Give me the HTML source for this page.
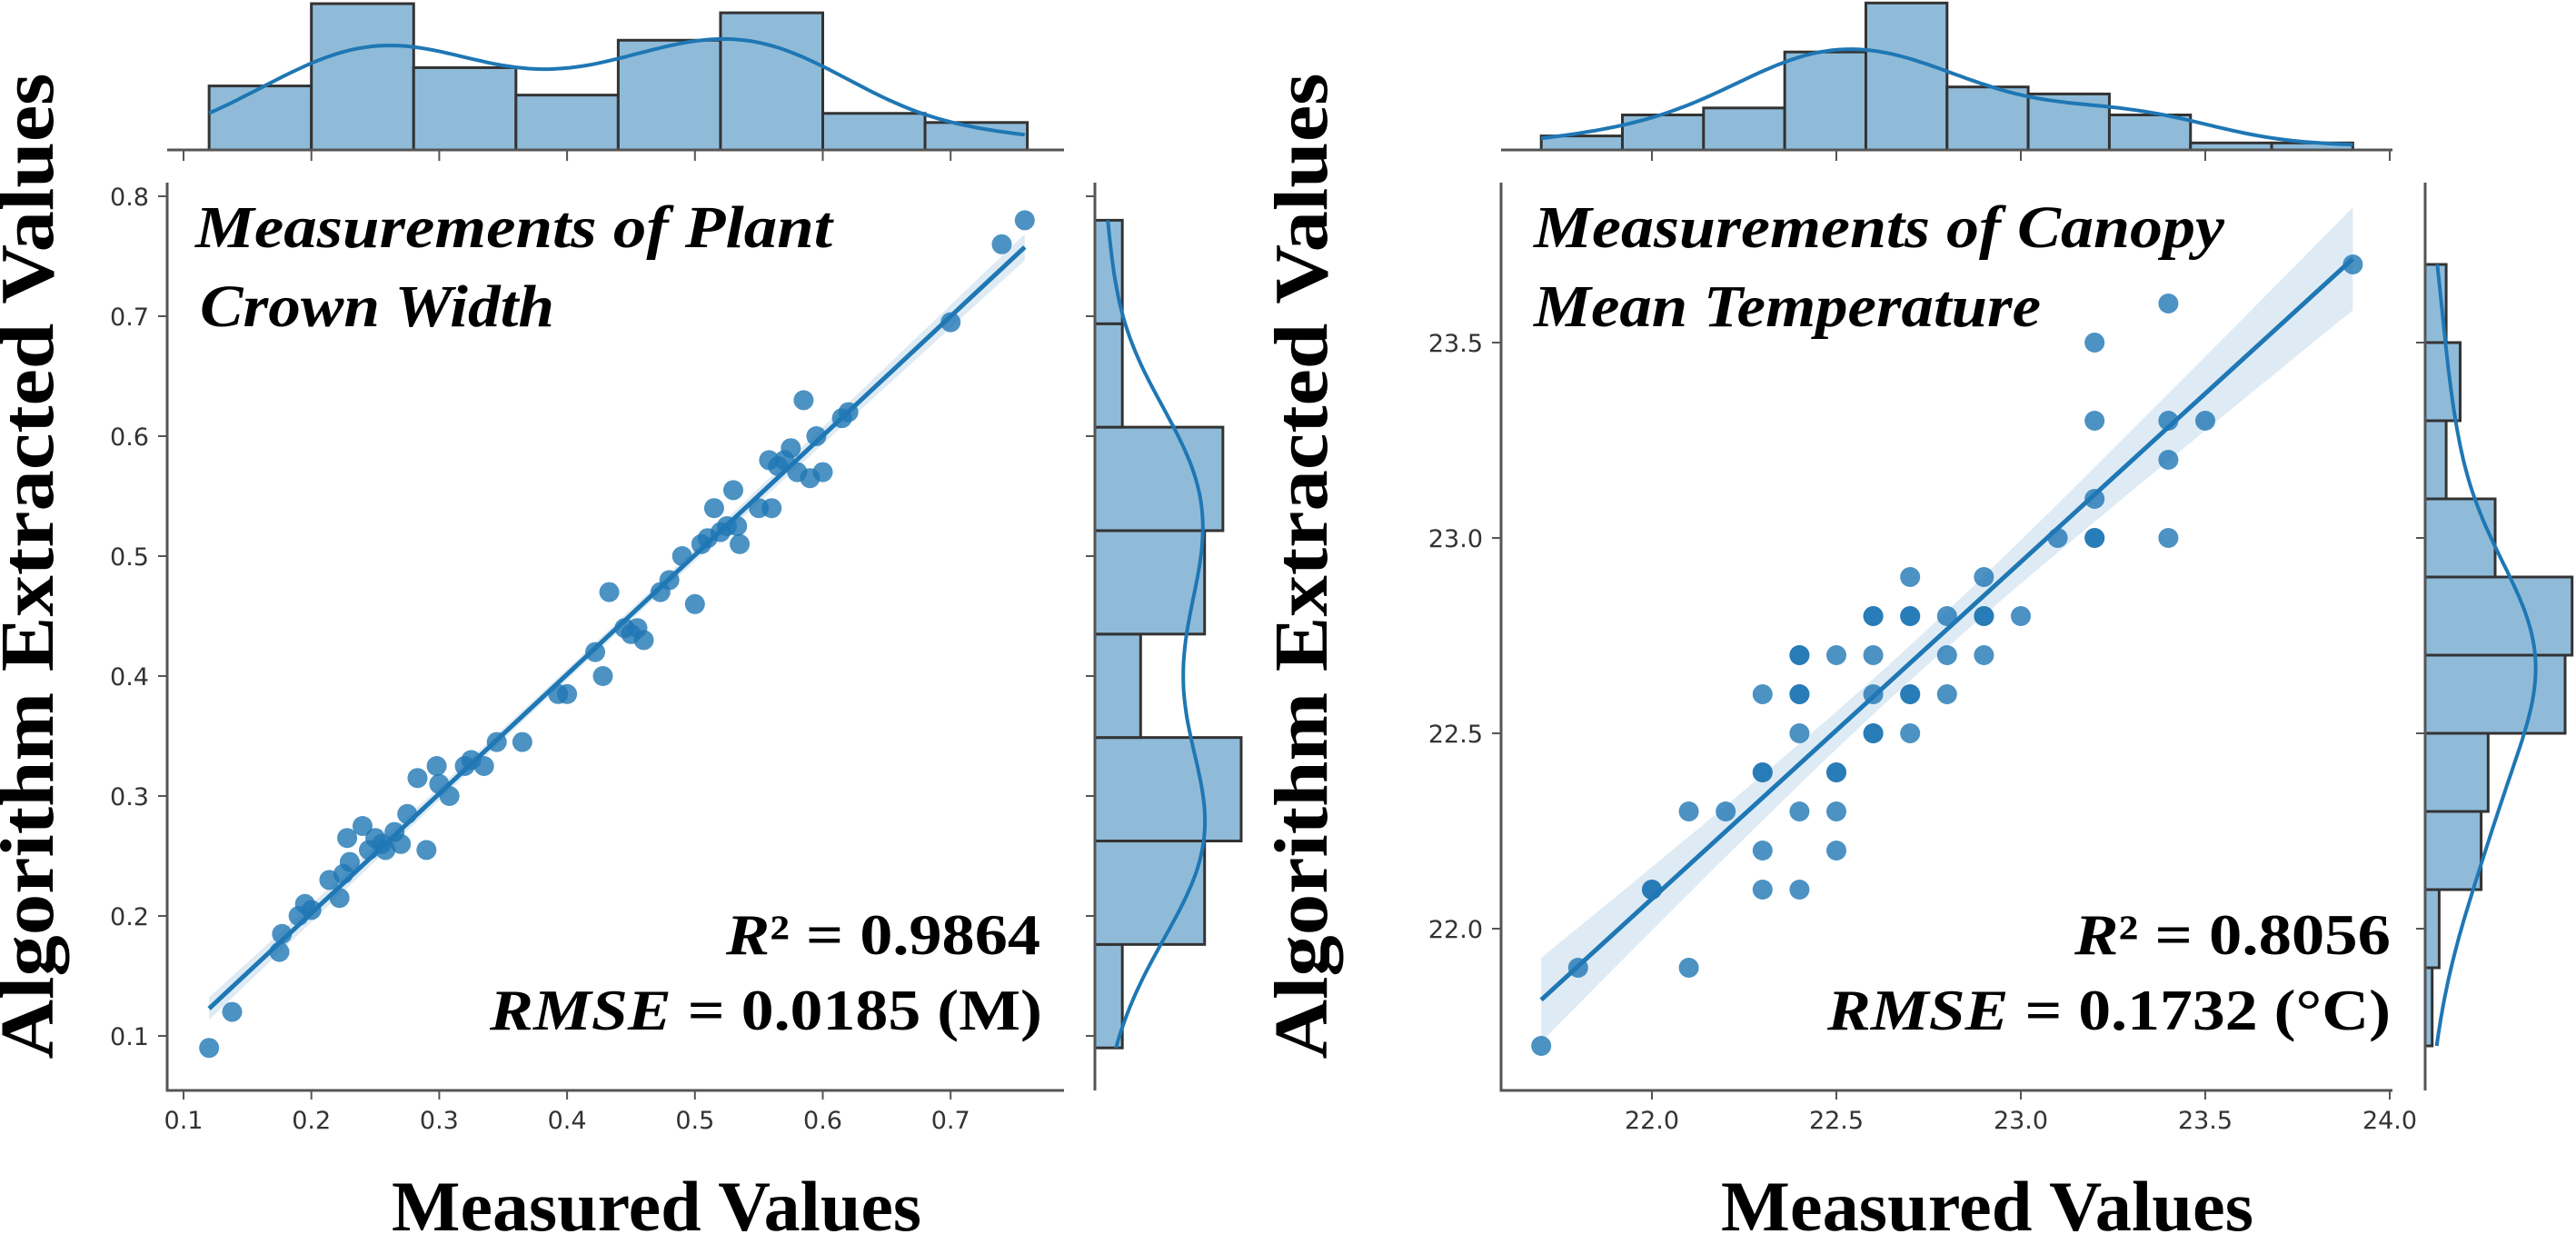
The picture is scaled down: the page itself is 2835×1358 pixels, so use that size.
<!DOCTYPE html>
<html><head><meta charset="utf-8"><style>
html,body{margin:0;padding:0;background:#fff}
svg{display:block}
</style></head><body>
<svg id="fig" width="2835" height="1358" xmlns="http://www.w3.org/2000/svg">
<g id="left"></g>
<g id="right"></g>
<g font-family="'Liberation Serif', serif" fill="#000">
<text transform="translate(58,623) rotate(-90)" text-anchor="middle" font-size="84" font-weight="bold" textLength="1085" lengthAdjust="spacingAndGlyphs">Algorithm Extracted Values</text>
<text transform="translate(1460,623) rotate(-90)" text-anchor="middle" font-size="84" font-weight="bold" textLength="1085" lengthAdjust="spacingAndGlyphs">Algorithm Extracted Values</text>
<text x="431" y="1354" font-size="78" font-weight="bold" textLength="583" lengthAdjust="spacingAndGlyphs">Measured Values</text>
<text x="1894" y="1354" font-size="78" font-weight="bold" textLength="586" lengthAdjust="spacingAndGlyphs">Measured Values</text>
<text x="215" y="272" font-size="66" font-weight="bold" font-style="italic" textLength="701" lengthAdjust="spacingAndGlyphs">Measurements of Plant</text>
<text x="220" y="359" font-size="66" font-weight="bold" font-style="italic" textLength="390" lengthAdjust="spacingAndGlyphs">Crown Width</text>
<text x="1688" y="272" font-size="66" font-weight="bold" font-style="italic" textLength="760" lengthAdjust="spacingAndGlyphs">Measurements of Canopy</text>
<text x="1688" y="359" font-size="66" font-weight="bold" font-style="italic" textLength="558" lengthAdjust="spacingAndGlyphs">Mean Temperature</text>
<text x="799" y="1050" font-size="64" font-weight="bold" textLength="346" lengthAdjust="spacingAndGlyphs"><tspan font-style="italic">R</tspan>² = 0.9864</text>
<text x="539" y="1133" font-size="64" font-weight="bold" textLength="608" lengthAdjust="spacingAndGlyphs"><tspan font-style="italic">RMSE</tspan> = 0.0185 (M)</text>
<text x="2283" y="1050" font-size="64" font-weight="bold" textLength="348" lengthAdjust="spacingAndGlyphs"><tspan font-style="italic">R</tspan>² = 0.8056</text>
<text x="2011" y="1133" font-size="64" font-weight="bold" textLength="620" lengthAdjust="spacingAndGlyphs"><tspan font-style="italic">RMSE</tspan> = 0.1732 (°C)</text>
</g>
</svg>
<script>
// ---- Left panel data (crown width) ----
const leftMeasured = [0.12,0.138,0.175,0.177,0.19,0.195,0.20,0.214,0.222,0.225,0.23,0.228,0.24,0.245,0.25,0.255,0.258,0.265,0.27,0.275,0.283,0.29,0.298,0.30,0.308,0.32,0.325,0.335,0.345,0.365,0.393,0.40,0.422,0.428,0.433,0.445,0.45,0.455,0.46,0.473,0.48,0.49,0.50,0.505,0.51,0.515,0.52,0.525,0.53,0.533,0.535,0.55,0.56,0.558,0.565,0.57,0.575,0.58,0.585,0.59,0.60,0.595,0.615,0.62,0.70,0.74,0.758];
const leftExtracted = [0.09,0.12,0.17,0.185,0.2,0.21,0.205,0.23,0.215,0.235,0.245,0.265,0.275,0.255,0.265,0.26,0.255,0.27,0.26,0.285,0.315,0.255,0.325,0.31,0.30,0.325,0.33,0.325,0.345,0.345,0.385,0.385,0.42,0.40,0.47,0.44,0.435,0.44,0.43,0.47,0.48,0.50,0.46,0.51,0.515,0.54,0.52,0.525,0.555,0.525,0.51,0.54,0.54,0.58,0.575,0.58,0.59,0.57,0.63,0.565,0.57,0.6,0.615,0.62,0.695,0.76,0.78];
const leftXTicks = [0.1,0.2,0.3,0.4,0.5,0.6,0.7];
const leftXTickLabels = ["0.1","0.2","0.3","0.4","0.5","0.6","0.7"];
const leftYTicks = [0.1,0.2,0.3,0.4,0.5,0.6,0.7,0.8];
const leftYTickLabels = ["0.1","0.2","0.3","0.4","0.5","0.6","0.7","0.8"];
const leftTopHistStart = 0.12, leftTopHistBin = 0.08;
const leftTopHistCounts = [7,16,9,6,12,15,4,3];
const leftSideHistStart = 0.09, leftSideHistBin = 0.08625;
const leftSideHistCounts = [3,12,16,5,12,14,3,3];

// ---- Right panel data (canopy temperature) ----
const rightMeasured = [21.7,21.8,22.0,22.0,22.1,22.1,22.2,22.3,22.3,22.3,22.3,22.3,22.4,22.4,22.4,22.4,22.4,22.4,22.4,22.5,22.5,22.5,22.5,22.5,22.6,22.6,22.6,22.6,22.6,22.6,22.7,22.7,22.7,22.7,22.7,22.7,22.8,22.8,22.8,22.9,22.9,22.9,22.9,23.0,23.1,23.2,23.2,23.2,23.2,23.2,23.4,23.4,23.4,23.4,23.5,23.9];
const rightExtracted = [21.7,21.9,22.1,22.1,21.9,22.3,22.3,22.1,22.2,22.4,22.4,22.6,22.1,22.3,22.5,22.6,22.6,22.7,22.7,22.2,22.3,22.4,22.4,22.7,22.5,22.5,22.6,22.7,22.8,22.8,22.5,22.6,22.8,22.8,22.9,22.6,22.6,22.7,22.8,22.7,22.8,22.8,22.9,22.8,23.0,23.0,23.0,23.1,23.3,23.5,23.0,23.2,23.3,23.6,23.3,23.7];
const rightXTicks = [22.0,22.5,23.0,23.5,24.0];
const rightXTickLabels = ["22.0","22.5","23.0","23.5","24.0"];
const rightYTicks = [22.0,22.5,23.0,23.5];
const rightYTickLabels = ["22.0","22.5","23.0","23.5"];
const rightTopHistStart = 21.7, rightTopHistBin = 0.22;
const rightTopHistCounts = [2,5,6,14,21,9,8,5,1,1];
const rightSideHistStart = 21.7, rightSideHistBin = 0.2;
const rightSideHistCounts = [1,2,8,9,20,21,10,3,5,3];

const NS = "http://www.w3.org/2000/svg";
const BLUE = "#1f77b4";
function mk(tag, attrs, parent){
  const e = document.createElementNS(NS, tag);
  for (const k in attrs) e.setAttribute(k, attrs[k]);
  parent.appendChild(e); return e;
}
function kde(data, lo, hi, n){
  const N = data.length;
  const mean = data.reduce((a,b)=>a+b,0)/N;
  const sd = Math.sqrt(data.reduce((a,b)=>a+(b-mean)*(b-mean),0)/(N-1));
  const h = sd*Math.pow(N,-0.2);
  const out = [];
  for (let i=0;i<=n;i++){
    const x = lo+(hi-lo)*i/n; let s=0;
    for (const d of data){ const z=(x-d)/h; s+=Math.exp(-0.5*z*z); }
    out.push([x, s/(N*h*Math.sqrt(2*Math.PI))]);
  }
  return out;
}
function fit(xs, ys){
  const n = xs.length;
  const mx = xs.reduce((a,b)=>a+b,0)/n, my = ys.reduce((a,b)=>a+b,0)/n;
  let sxx=0, sxy=0;
  for (let i=0;i<n;i++){ sxx+=(xs[i]-mx)**2; sxy+=(xs[i]-mx)*(ys[i]-my); }
  const b = sxy/sxx, a = my-b*mx;
  let sse=0; for (let i=0;i<n;i++) sse+=(ys[i]-a-b*xs[i])**2;
  const s = Math.sqrt(sse/(n-2));
  return {a,b,s,mx,sxx,n};
}

function panel(g, cfg){
  const {X, Y, x0, x1, yTop, yBot, topBase, sideBase} = cfg;
  const spine = {stroke:"#555","stroke-width":3,fill:"none"};

  const topG = mk("g",{},g);
  
  
  cfg.topCounts.forEach((c,i)=>{
    const l = X(cfg.topStart+i*cfg.topBin), r = X(cfg.topStart+(i+1)*cfg.topBin);
    const h = c*cfg.topScale;
    const rect = mk("rect",{x:l,y:topBase-h,width:r-l,height:h,fill:"#8fbbd9",stroke:"#333","stroke-width":3},topG);
    
    
  });
  const xsMin = Math.min(...cfg.xs), xsMax = Math.max(...cfg.xs);
  const kt = kde(cfg.xs, xsMin, xsMax, 120);
  const NT = cfg.topCounts.reduce((a,b)=>a+b,0);
  const tp = mk("path",{d:kt.map((p,i)=>(i?"L":"M")+X(p[0]).toFixed(1)+","+(topBase-p[1]*NT*cfg.topBin*cfg.topScale).toFixed(1)).join(""),fill:"none",stroke:BLUE,"stroke-width":4},topG);
  
  
  mk("line",Object.assign({x1:x0,x2:x1,y1:topBase,y2:topBase},spine),topG);
  cfg.xTicks.forEach(t=>mk("line",{x1:X(t),x2:X(t),y1:topBase,y2:topBase+12,stroke:"#555","stroke-width":2},topG));

  const sideG = mk("g",{},g);
  
  
  cfg.sideCounts.forEach((c,i)=>{
    const b = Y(cfg.sideStart+i*cfg.sideBin), t = Y(cfg.sideStart+(i+1)*cfg.sideBin);
    const w = c*cfg.sideScale;
    const rect = mk("rect",{x:sideBase,y:t,width:w,height:b-t,fill:"#8fbbd9",stroke:"#333","stroke-width":3},sideG);
    
    
  });
  const ysMin = Math.min(...cfg.ys), ysMax = Math.max(...cfg.ys);
  const ks = kde(cfg.ys, ysMin, ysMax, 120);
  const NS2 = cfg.sideCounts.reduce((a,b)=>a+b,0);
  const sp = mk("path",{d:ks.map((p,i)=>(i?"L":"M")+(sideBase+p[1]*NS2*cfg.sideBin*cfg.sideScale).toFixed(1)+","+Y(p[0]).toFixed(1)).join(""),fill:"none",stroke:BLUE,"stroke-width":4},sideG);
  
  
  mk("line",Object.assign({x1:sideBase,x2:sideBase,y1:yTop,y2:yBot},spine),sideG);
  cfg.yTicks.forEach(t=>mk("line",{x1:sideBase-10,x2:sideBase,y1:Y(t),y2:Y(t),stroke:"#555","stroke-width":2},sideG));

  const f = fit(cfg.xs, cfg.ys);
  const regG = mk("g",{},g);
  
  
  const pts = [];
  for (let i=0;i<=60;i++){
    const x = xsMin+(xsMax-xsMin)*i/60;
    const se = 2.0*f.s*Math.sqrt(1/f.n+(x-f.mx)**2/f.sxx);
    pts.push([x, f.a+f.b*x, se]);
  }
  const band = "M"+pts.map(p=>X(p[0]).toFixed(1)+","+Y(p[1]+p[2]).toFixed(1)).join("L")+"L"+pts.slice().reverse().map(p=>X(p[0]).toFixed(1)+","+Y(p[1]-p[2]).toFixed(1)).join("L")+"Z";
  const bp = mk("path",{d:band,fill:BLUE,"fill-opacity":0.15},regG);
  
  
  const ln = mk("line",{x1:X(xsMin),y1:Y(f.a+f.b*xsMin),x2:X(xsMax),y2:Y(f.a+f.b*xsMax),stroke:BLUE,"stroke-width":5},regG);
  
  

  const scG = mk("g",{},g);
  
  
  cfg.xs.forEach((x,i)=>{
    const c = mk("ellipse",{cx:X(x),cy:Y(cfg.ys[i]),rx:11,ry:11,fill:BLUE,"fill-opacity":0.8},scG);
    
    
  });

  const axG = mk("g",{},g);
  
  
  mk("line",Object.assign({x1:x0,x2:x0,y1:yTop,y2:yBot+1.5},spine),axG);
  mk("line",Object.assign({x1:x0,x2:x1,y1:yBot,y2:yBot},spine),axG);
  cfg.xTicks.forEach((t,i)=>{
    mk("line",{x1:X(t),x2:X(t),y1:yBot,y2:yBot+10,stroke:"#555","stroke-width":2},axG);
    const tx = mk("text",{x:X(t),y:1242,"text-anchor":"middle","font-family":"'DejaVu Sans', sans-serif","font-size":27,fill:"#333"},axG);
    tx.textContent = cfg.xLabels[i];
    
    
  });
  cfg.yTicks.forEach((t,i)=>{
    mk("line",{x1:x0-10,x2:x0,y1:Y(t),y2:Y(t),stroke:"#555","stroke-width":2},axG);
    const tx = mk("text",{x:x0-20,y:Y(t)+10,"text-anchor":"end","font-family":"'DejaVu Sans', sans-serif","font-size":27,fill:"#333"},axG);
    tx.textContent = cfg.yLabels[i];
    
    
  });
}

panel(document.getElementById("left"), {
  key:"left",
  X:v=>202+(v-0.1)*1407, Y:v=>1140-(v-0.1)*1320,
  x0:184, x1:1171, yTop:201, yBot:1200, topBase:165, sideBase:1205,
  xs:leftMeasured, ys:leftExtracted,
  xTicks:leftXTicks, xLabels:leftXTickLabels, yTicks:leftYTicks, yLabels:leftYTickLabels,
  topStart:leftTopHistStart, topBin:leftTopHistBin, topCounts:leftTopHistCounts, topScale:10.06,
  sideStart:leftSideHistStart, sideBin:leftSideHistBin, sideCounts:leftSideHistCounts, sideScale:10.06
});
panel(document.getElementById("right"), {
  key:"right",
  X:v=>1818+(v-22)*406, Y:v=>1022-(v-22)*430,
  x0:1652, x1:2633, yTop:201, yBot:1200, topBase:165, sideBase:2669,
  xs:rightMeasured, ys:rightExtracted,
  xTicks:rightXTicks, xLabels:rightXTickLabels, yTicks:rightYTicks, yLabels:rightYTickLabels,
  topStart:rightTopHistStart, topBin:rightTopHistBin, topCounts:rightTopHistCounts, topScale:7.7,
  sideStart:rightSideHistStart, sideBin:rightSideHistBin, sideCounts:rightSideHistCounts, sideScale:7.7
});
</script>
</body></html>
